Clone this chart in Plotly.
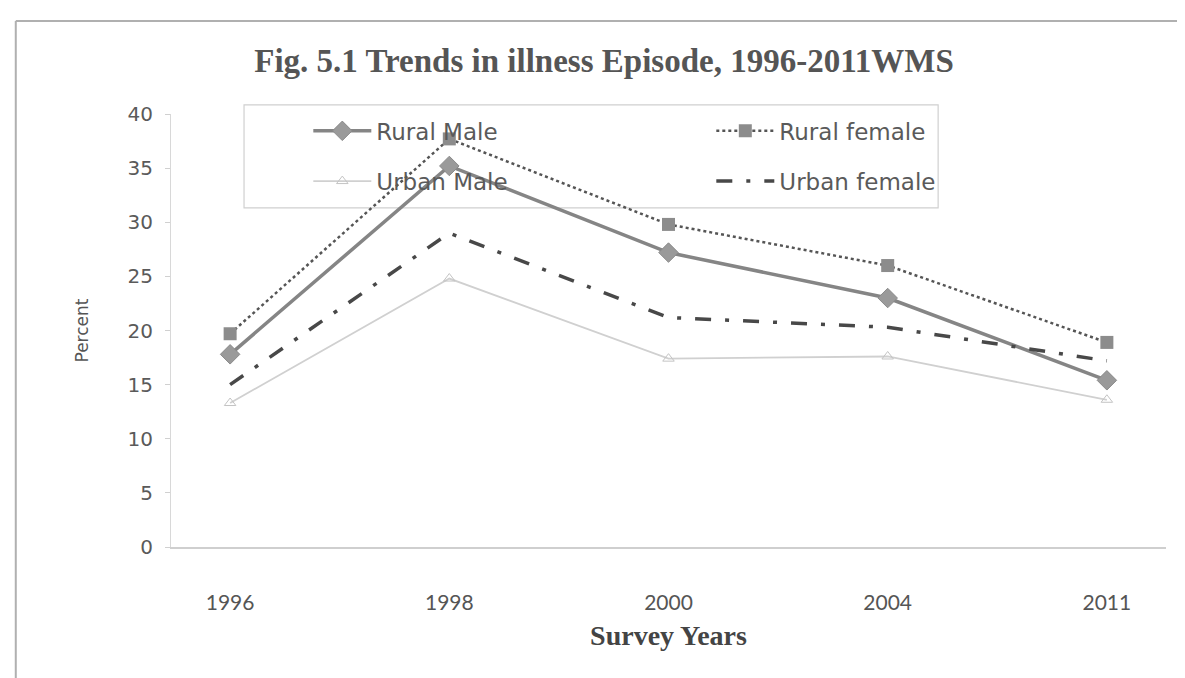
import plotly.graph_objects as go

years = ["1996", "1998", "2000", "2004", "2011"]
rural_male = [17.8, 35.2, 27.2, 23.0, 15.4]
rural_female = [19.7, 37.7, 29.8, 26.0, 18.9]
urban_male = [13.3, 24.8, 17.4, 17.6, 13.6]
urban_female = [15.0, 29.0, 21.2, 20.3, 17.2]

fig = go.Figure()
fig.add_trace(go.Scatter(
    x=years, y=rural_male, name="Rural Male", mode="lines+markers", legend="legend",
    line=dict(color="#858585", width=3.5),
    marker=dict(symbol="diamond", size=15, color="#9a9a9a", line=dict(color="#8a8a8a", width=1)),
))
fig.add_trace(go.Scatter(
    x=years, y=rural_female, name="Rural female", mode="lines+markers", legend="legend",
    line=dict(color="#555555", width=2.5, dash="dot"),
    marker=dict(symbol="square", size=13, color="#8c8c8c"),
))
fig.add_trace(go.Scatter(
    x=years, y=urban_male, name="Urban Male", mode="lines+markers", legend="legend2",
    line=dict(color="#d0d0d0", width=1.8),
    marker=dict(symbol="triangle-up-open", size=10, color="#c4c4c4"),
))
fig.add_trace(go.Scatter(
    x=years, y=urban_female, name="Urban female", mode="lines", legend="legend2",
    line=dict(color="#484848", width=3.5, dash="16px,14px,4px,14px"),
))

leg_common = dict(
    orientation="h", xanchor="left", yanchor="middle",
    entrywidth=330, entrywidthmode="pixels", itemwidth=58,
    font=dict(family="DejaVu Sans", size=23, color="#5a5a5a"),
    bgcolor="rgba(0,0,0,0)", borderwidth=0,
)

fig.update_layout(
    width=1185, height=678,
    paper_bgcolor="white", plot_bgcolor="white",
    margin=dict(l=163, r=27, t=106, b=139),
    title=dict(
        text="<b>Fig. 5.1 Trends in illness Episode, 1996-2011WMS</b>",
        x=0.503, xanchor="center", y=0.923, yanchor="middle",
        font=dict(family="Liberation Serif", size=33, color="#555555"),
    ),
    legend=dict(x=0.138, y=0.961, **leg_common),
    legend2=dict(x=0.138, y=0.845, **leg_common),
    font=dict(family="DejaVu Sans", color="#555555"),
)
fig.update_xaxes(
    type="category", showgrid=False, showline=True, linecolor="#cfcfcf", linewidth=1.5,
    ticks="", ticklabelstandoff=36,
    tickfont=dict(family="Lato", size=21, color="#555555"),
    title=dict(text="<b>Survey Years</b>", standoff=12,
               font=dict(family="Liberation Serif", size=28, color="#444444")),
)
fig.update_yaxes(
    range=[0, 40], dtick=5, showgrid=False, zeroline=False,
    showline=True, linecolor="#d8d8d8", linewidth=1,
    ticks="outside", ticklen=5, tickcolor="#d0d0d0", ticklabelstandoff=8,
    tickfont=dict(family="DejaVu Sans", size=20, color="#5a5a5a"),
    title=dict(text="Percent", standoff=34, font=dict(family="DejaVu Sans", size=17, color="#555555")),
)
# legend frame
fig.add_shape(type="rect", xref="paper", yref="paper",
              x0=0.0734, x1=0.771, y0=0.783, y1=1.021,
              line=dict(color="#d0d0d0", width=1.2), layer="below")
# picture frame (top and left edges)
fig.add_shape(type="line", xref="paper", yref="paper",
              x0=-0.156, x1=1.03, y0=1.215, y1=1.215,
              line=dict(color="#b0b0b0", width=2))
fig.add_shape(type="line", xref="paper", yref="paper",
              x0=-0.156, x1=-0.156, y0=1.215, y1=-0.32,
              line=dict(color="#b0b0b0", width=2))
fig.write_html("out.html")
